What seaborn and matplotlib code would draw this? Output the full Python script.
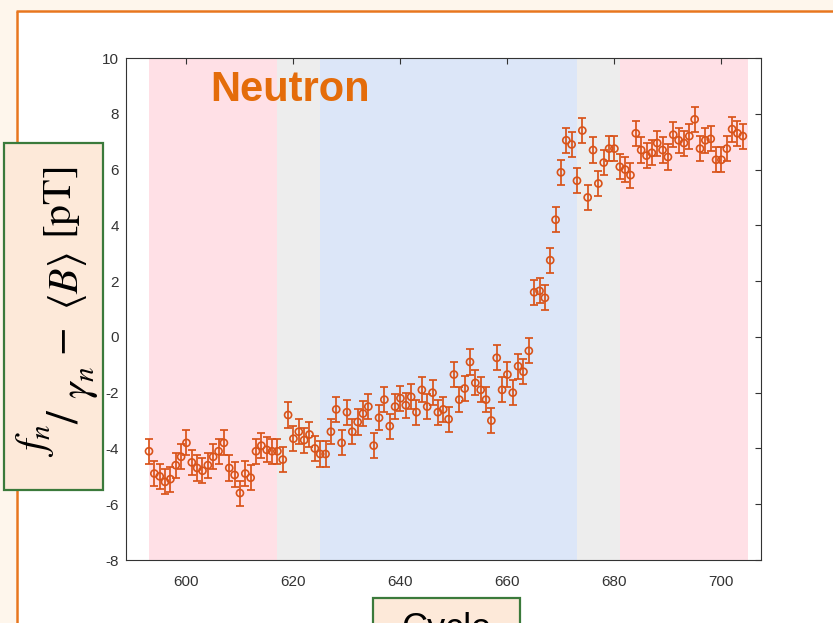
import numpy as np
import pandas as pd
import matplotlib
matplotlib.use("Agg")
import matplotlib.pyplot as plt
import seaborn as sns
from matplotlib.patches import Rectangle

# ---------------- data ----------------
values = [
    -4.1, -4.9, -5.0, -5.2, -5.1, -4.6, -4.3, -3.8, -4.5, -4.7,   # 593-602
    -4.8, -4.6, -4.3, -4.1, -3.8, -4.7, -4.95, -5.6, -4.9, -5.05,  # 603-612
    -4.1, -3.9, -4.05, -4.1, -4.1, -4.4, -2.8, -3.65, -3.4, -3.7,  # 613-622
    -3.5, -4.0, -4.2, -4.2, -3.4, -2.6, -3.8, -2.7, -3.4, -3.05,   # 623-632
    -2.75, -2.5, -3.9, -2.9, -2.25, -3.2, -2.5, -2.2, -2.45, -2.15,  # 633-642
    -2.7, -1.9, -2.5, -2.0, -2.7, -2.6, -2.95, -1.35, -2.25, -1.85,  # 643-652
    -0.9, -1.65, -1.9, -2.25, -3.0, -0.75, -1.9, -1.35, -2.0, -1.05,  # 653-662
    -1.25, -0.5, 1.6, 1.65, 1.4, 2.75, 4.2, 5.9, 7.05, 6.9,         # 663-672
    5.6, 7.4, 5.0, 6.7, 5.5, 6.25, 6.75, 6.75, 6.1, 6.0,            # 673-682
    5.8, 7.3, 6.7, 6.5, 6.6, 6.95, 6.7, 6.45, 7.25, 7.05,           # 683-692
    6.95, 7.2, 7.8, 6.75, 7.05, 7.1, 6.35, 6.35, 6.75, 7.45,        # 693-702
    7.3, 7.2,                                                       # 703-704
]
cycle_start = 593
cycles = np.arange(cycle_start, cycle_start + len(values))
errors = [0.45] * len(values)

band_edges = [593, 617, 625, 673, 681, 705]
band_colors = ["#FFE0E6", "#EDEDED", "#DCE6F8", "#EDEDED", "#FFE0E6"]

x_ticks = [600, 620, 640, 660, 680, 700]
y_ticks = [-8, -6, -4, -2, 0, 2, 4, 6, 8, 10]

title_text = "Neutron"
xlabel_text = "Cycle"
# y label pieces: (text, x_px, y_px, fontsize)
ylabel_pieces = [
    (r"$f_n$", 35, 440, 30),
    (r"$/$", 66, 416, 33),
    (r"$\gamma_n$", 80, 383, 30),
    (r"$-$", 62, 342, 30),
    (r"$\langle B\rangle$", 68, 281, 30),
    (r"$[\mathrm{pT}]$", 62, 203, 30),
]

# ---------------- style ----------------
sns.set_theme(style="white")
plt.rcParams["font.family"] = ["Liberation Sans", "DejaVu Sans"]
plt.rcParams["mathtext.fontset"] = "stix"
plt.rcParams["axes.unicode_minus"] = False

W, H = 833, 623
fig = plt.figure(figsize=(W / 100, H / 100), dpi=100)
fig.patch.set_facecolor("white")

cream = "#FEF6EC"
frame_orange = "#E8761E"
title_orange = "#E46C0A"
peach = "#FDE9D9"
green = "#3B7A3B"
data_col = "#D95319"
axis_col = "#333333"

# background decorations (pixel coords)
bg = fig.add_axes([0, 0, 1, 1], zorder=-5)
bg.set_xlim(0, W)
bg.set_ylim(H, 0)
bg.axis("off")
bg.add_patch(Rectangle((0, 0), W, 10, color=cream, lw=0))
bg.add_patch(Rectangle((0, 0), 16, H, color=cream, lw=0))
bg.plot([17, 17], [11, H], color=frame_orange, lw=1.8, solid_capstyle="butt")
bg.plot([16, W], [11, 11], color=frame_orange, lw=1.8, solid_capstyle="butt")

# main axes
ax = fig.add_axes([126 / W, 1 - 560 / H, (761 - 126) / W, (560 - 58) / H])
ax.set_facecolor("white")
for i, col in enumerate(band_colors):
    ax.axvspan(band_edges[i], band_edges[i + 1], color=col, lw=0, zorder=0)

df = pd.DataFrame({"cycle": cycles, "value": values, "err": errors})
ax.errorbar(df["cycle"], df["value"], yerr=df["err"], fmt="none",
            ecolor=data_col, elinewidth=1.25, capsize=2.6, capthick=1.25, zorder=3)
sns.scatterplot(data=df, x="cycle", y="value", ax=ax, marker="o", s=26,
                facecolor="none", edgecolor=data_col, linewidth=1.2, zorder=4)

ax.set_xlim(588.7, 707.4)
ax.set_ylim(-8, 10)
ax.set_xticks(x_ticks)
ax.set_yticks(y_ticks)
ax.set_xlabel("")
ax.set_ylabel("")
ax.tick_params(direction="in", length=4, width=0.8, top=True, right=True,
               labelsize=11, colors=axis_col, labelcolor=axis_col, pad=5)
ax.tick_params(axis="x", pad=11)
for sp in ax.spines.values():
    sp.set_visible(True)
    sp.set_color(axis_col)
    sp.set_linewidth(0.8)

# overlay annotations
ov = fig.add_axes([0, 0, 1, 1], zorder=10)
ov.set_xlim(0, W)
ov.set_ylim(H, 0)
ov.axis("off")
ov.text(290, 90, title_text, ha="center", va="center", fontsize=30,
        fontweight="bold", color=title_orange)
ov.add_patch(Rectangle((4, 143), 99, 347, facecolor=peach, edgecolor=green, lw=1.6))
for txt, px, py, fs in ylabel_pieces:
    ov.text(px, py, txt, ha="center", va="center", rotation=90,
            fontsize=fs, color="black")
ov.add_patch(Rectangle((373, 598), 147, 60, facecolor=peach, edgecolor=green, lw=1.6))
ov.text(446, 612, xlabel_text, ha="center", va="top", fontsize=26, color="black")

fig.savefig("out.png", dpi=100)
